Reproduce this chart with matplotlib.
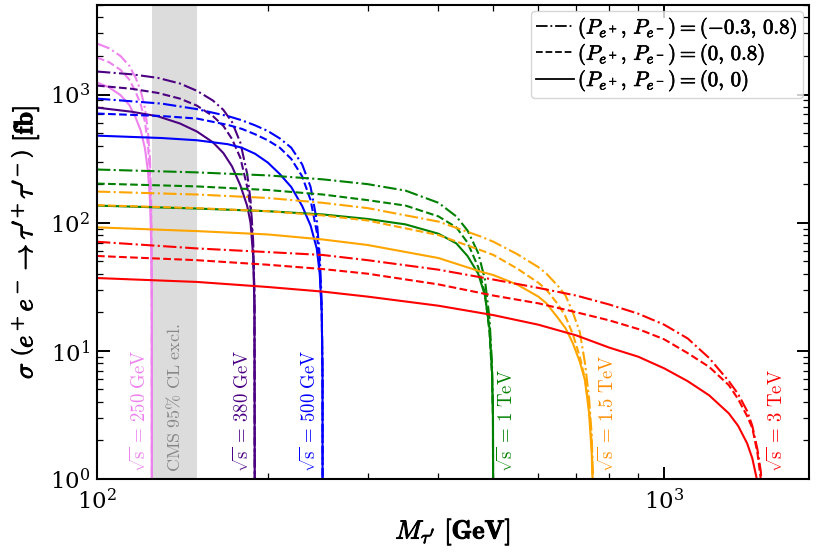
import matplotlib
matplotlib.use("Agg")
import matplotlib.pyplot as plt
import matplotlib.ticker as ticker
import matplotlib.patheffects as pe
from matplotlib.lines import Line2D

plt.rcParams["mathtext.fontset"] = "cm"
plt.rcParams["font.family"] = "serif"
plt.rcParams["font.serif"] = ["DejaVu Serif"]
plt.rcParams["axes.unicode_minus"] = False

# --- values (M in GeV, sigma in fb) ---
# columns per energy: pol (0,0) solid, (0,0.8) dashed, (-0.3,0.8) dashdot
m_250 = [100, 105, 110, 114, 117, 119.5, 121.5, 123, 124, 124.6, 124.9, 125]
sig_250_00 = [1241, 1140, 990, 830, 660, 520, 380, 250, 150, 70, 20, 0.01]
sig_250_08 = [1945, 1790, 1560, 1310, 1050, 830, 610, 400, 240, 110, 30, 0.01]
sig_250_m3 = [2500, 2300, 2000, 1680, 1350, 1060, 780, 510, 310, 140, 40, 0.01]

m_380 = [100, 115, 128, 140, 150, 160, 167, 173, 179, 184, 186.5, 188.5, 189.5, 190]
sig_380_00 = [791, 735, 677, 595, 515, 425, 350, 275, 195, 135, 100, 55, 22, 0.01]
sig_380_08 = [1175, 1110, 1030, 930, 820, 680, 570, 450, 320, 190, 130, 65, 25, 0.01]
sig_380_m3 = [1513, 1440, 1350, 1220, 1070, 900, 760, 610, 420, 240, 150, 72, 28, 0.01]

m_500 = [100, 130, 150, 170, 180, 190, 200, 210, 220, 230, 238, 244, 247, 249, 249.8, 250]
sig_500_00 = [478, 458, 440, 410, 385, 345, 295, 240, 190, 135, 95, 63, 40, 20, 6, 0.01]
sig_500_08 = [711, 680, 650, 580, 540, 490, 440, 385, 315, 230, 150, 85, 45, 20, 6, 0.01]
sig_500_m3 = [930, 850, 770, 680, 630, 575, 520, 455, 385, 285, 190, 105, 55, 24, 7, 0.01]

m_1000 = [100, 150, 200, 250, 300, 350, 400, 430, 450, 470, 483, 492, 497, 499, 500]
sig_1000_00 = [136, 129, 123, 116, 107, 97, 82, 69, 55, 40, 27, 15, 7, 3, 0.01]
sig_1000_08 = [202, 192, 180, 166, 150, 136, 112, 92, 70, 45, 28, 14, 6.5, 3, 0.01]
sig_1000_m3 = [260, 247, 234, 218, 200, 178, 143, 112, 87, 58, 36, 18, 8, 3.5, 0.01]

m_1500 = [100, 150, 200, 250, 300, 400, 475, 500, 550, 600, 620, 650, 670, 690, 710,
          725, 737, 745, 748, 750]
sig_1500_00 = [92, 86, 81, 74, 67, 53, 41.5, 39, 33, 26.5, 23.5, 18, 15, 11.5, 8.2,
               5.9, 3.3, 1.6, 0.9, 0.01]
sig_1500_08 = [137, 130, 123, 114, 104, 80, 61, 56, 44, 34, 30, 23, 18.5, 13.5, 9,
               6, 3.6, 1.9, 1.1, 0.01]
sig_1500_m3 = [175, 166, 156, 143, 130, 102, 78, 71, 57, 45, 40, 32, 27, 20, 14,
               8, 4.3, 2.2, 1.2, 0.01]

m_3000 = [100, 150, 200, 250, 300, 400, 500, 600, 700, 800, 900, 1000, 1100, 1200,
          1300, 1350, 1400, 1430, 1460, 1480, 1490, 1500]
sig_3000_00 = [37, 34.5, 31.5, 29, 26.5, 22.5, 19, 16, 13.2, 10.6, 9.0, 7.3, 5.8, 4.5,
               3.25, 2.6, 1.9, 1.45, 0.95, 0.6, 0.4, 0.01]
sig_3000_08 = [55, 51, 47, 43.5, 40, 33, 27, 23.5, 20, 17.3, 14.8, 12.3, 9.6, 7.5,
               5.4, 4.2, 3.1, 2.5, 1.6, 1.0, 0.6, 0.01]
sig_3000_m3 = [71, 63, 59, 56, 51, 43, 36, 31, 27, 23, 19.5, 16, 12.5, 8.8,
               5.8, 4.6, 3.4, 2.6, 1.7, 1.15, 0.7, 0.01]

energies = ["250", "380", "500", "1000", "1500", "3000"]
masses = [m_250, m_380, m_500, m_1000, m_1500, m_3000]
sig_00 = [sig_250_00, sig_380_00, sig_500_00, sig_1000_00, sig_1500_00, sig_3000_00]
sig_08 = [sig_250_08, sig_380_08, sig_500_08, sig_1000_08, sig_1500_08, sig_3000_08]
sig_m3 = [sig_250_m3, sig_380_m3, sig_500_m3, sig_1000_m3, sig_1500_m3, sig_3000_m3]
colors = ["violet", "indigo", "blue", "green", "orange", "red"]
text_colors = ["violet", "indigo", "blue", "green", "darkorange", "red"]
energy_labels = [r"$\sqrt{\mathrm{s}}\,=\,250\ \mathrm{GeV}$",
                 r"$\sqrt{\mathrm{s}}\,=\,380\ \mathrm{GeV}$",
                 r"$\sqrt{\mathrm{s}}\,=\,500\ \mathrm{GeV}$",
                 r"$\sqrt{\mathrm{s}}\,=\,1\ \mathrm{TeV}$",
                 r"$\sqrt{\mathrm{s}}\,=\,1.5\ \mathrm{TeV}$",
                 r"$\sqrt{\mathrm{s}}\,=\,3\ \mathrm{TeV}$"]
label_x = [123.9, 188.3, 247.7, 506.7, 762, 1517]
label_ha = ["right", "right", "right", "left", "left", "left"]

cms_lo, cms_hi = 125, 150

bold = [pe.withStroke(linewidth=0.7, foreground="black")]

fig = plt.figure(figsize=(8.17, 5.59), dpi=100)
ax = fig.add_axes([97 / 817, 1 - 479 / 559, 712 / 817, 474 / 559])

ax.axvspan(cms_lo, cms_hi, color="#dcdcdc", lw=0, zorder=0)
ax.text(137, 1.13, r"$\mathrm{CMS\ 95\%\ CL\ excl.}$", rotation=90, color="#888888",
        ha="center", va="bottom", fontsize=13)

for i in range(len(energies)):
    ax.plot(masses[i], sig_m3[i], color=colors[i], lw=1.5, ls="-.")
    ax.plot(masses[i], sig_08[i], color=colors[i], lw=1.5, ls="--")
    ax.plot(masses[i], sig_00[i], color=colors[i], lw=1.5, ls="-")
    ax.text(label_x[i], 1.13, energy_labels[i], rotation=90, color=text_colors[i],
            ha=label_ha[i], va="bottom", fontsize=13.5)

ax.set_xscale("log")
ax.set_yscale("log")
ax.set_xlim(100, 1800)
ax.set_ylim(1, 5000)
ax.xaxis.set_minor_formatter(ticker.NullFormatter())
ax.yaxis.set_minor_formatter(ticker.NullFormatter())
ax.tick_params(which="both", direction="in", top=True, right=True, labelsize=16.5)
ax.tick_params(which="major", length=9, width=1.4)
ax.tick_params(which="minor", length=4.5, width=0.9)
ax.tick_params(axis="x", which="major", pad=7)
ax.tick_params(axis="y", which="major", pad=5)
for sp in ax.spines.values():
    sp.set_linewidth(1.5)

xl = ax.set_xlabel(r"$M_{\tau^{\prime}}\ \mathbf{[GeV]}$", fontsize=19, labelpad=2)
yl = ax.set_ylabel(r"$\sigma\ \left(e^+e^- \rightarrow \tau^{\prime +}\tau^{\prime -}\right)\ \mathbf{[fb]}$",
                   fontsize=19, labelpad=6)
xl.set_path_effects(bold)
yl.set_path_effects(bold)

handles = [Line2D([], [], color="black", lw=1.3, ls="-."),
           Line2D([], [], color="black", lw=1.3, ls="--"),
           Line2D([], [], color="black", lw=1.3, ls="-")]
labels = [r"$(P_{e^+},\, P_{e^-}) = (-0.3,\, 0.8)$",
          r"$(P_{e^+},\, P_{e^-}) = (0,\, 0.8)$",
          r"$(P_{e^+},\, P_{e^-}) = (0,\, 0)$"]
leg = ax.legend(handles, labels, loc="upper right", fontsize=15, handlelength=1.8,
                handletextpad=0.2, labelspacing=0.1, borderpad=0.25,
                borderaxespad=0.3, frameon=True, fancybox=True, edgecolor="#cccccc")
for t in leg.get_texts():
    t.set_path_effects([pe.withStroke(linewidth=0.5, foreground="black")])

fig.savefig("out.png", dpi=100)
